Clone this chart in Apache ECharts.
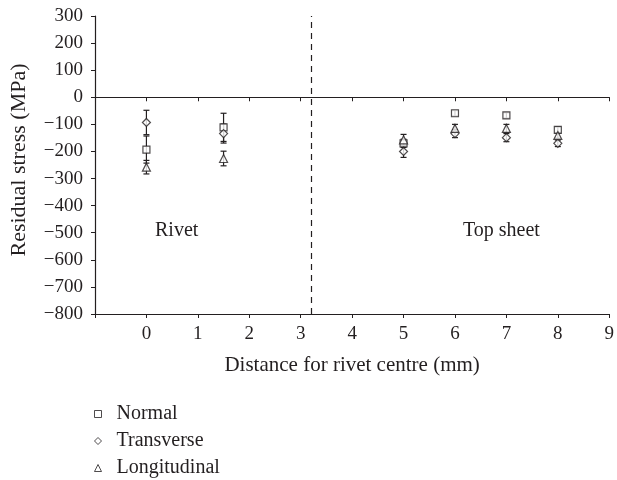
<!DOCTYPE html>
<html><head><meta charset="utf-8">
<script src="https://cdn.jsdelivr.net/npm/echarts@6/dist/echarts.min.js"></script>
<style>html,body{margin:0;padding:0;background:#fff}#c{width:617px;height:480px}</style>
</head><body><div id="c"></div>
<script>
const positions = [0, 1.5, 5, 6, 7, 8];
const normalVals = [-193, -111, -170, -59, -67, -120];
const normalErr  = [50, 52, 15, 10, 10, 10];
const transVals  = [-93, -134, -200, -134, -149, -170];
const transErr   = [45, 35, 22, 15, 15, 12];
const longVals   = [-258, -226, -157, -115, -115, -141];
const longErr    = [25, 27, 20, 15, 15, 10];
const yTicks = [-800, 300, 100];
const divider = 3.2;

const FONT = 'Liberation Serif';
const INK = '#231f20';

function pts(vals){ return positions.map((x,i)=>[x, vals[i]]); }
function errData(vals, errs){ return positions.map((x,i)=>[x, vals[i]-errs[i], vals[i]+errs[i]]); }

function errSeries(vals, errs){
  return {
    type: 'custom',
    xAxisIndex: 0,
    silent: true,
    data: errData(vals, errs),
    renderItem: function(params, api){
      const x = api.value(0), lo = api.value(1), hi = api.value(2);
      const p1 = api.coord([x, lo]), p2 = api.coord([x, hi]);
      const w = 3;
      const st = {stroke: INK, lineWidth: 1.2};
      return {type:'group', children:[
        {type:'line', shape:{x1:p1[0],y1:p1[1],x2:p2[0],y2:p2[1]}, style: st},
        {type:'line', shape:{x1:p1[0]-w,y1:p1[1],x2:p1[0]+w,y2:p1[1]}, style: st},
        {type:'line', shape:{x1:p2[0]-w,y1:p2[1],x2:p2[0]+w,y2:p2[1]}, style: st}
      ]};
    },
    z: 2
  };
}
function pointSeries(name, vals, symbol, size){
  return {
    name: name, type: 'scatter', xAxisIndex: 0, data: pts(vals),
    symbol: symbol, symbolSize: size,
    itemStyle: {color: '#fff', borderColor: INK, borderWidth: 1.2},
    z: 3
  };
}

const chart = echarts.init(document.getElementById('c'), null, {renderer:'canvas'});
chart.setOption({
  animation: false,
  textStyle: {fontFamily: FONT, color: INK},
  grid: {left: 95, right: 6, top: 16, bottom: 166, containLabel: false},
  legend: {
    orient: 'vertical', left: 94, top: 404, padding: 0,
    itemWidth: 7, itemHeight: 7, itemGap: 7,
    textStyle: {fontFamily: FONT, fontSize: 20, color: INK, padding: [0,0,0,10]},
    data: [
      {name:'Normal', icon:'rect'},
      {name:'Transverse', icon:'diamond'},
      {name:'Longitudinal', icon:'triangle'}
    ],
    itemStyle: {color:'#fff', borderColor: INK, borderWidth: 1}
  },
  xAxis: [{
    type: 'value', min: -1, max: 9, interval: 1, position: 'bottom',
    axisLine: {onZero: false, lineStyle: {color: INK, width: 1.2}},
    axisTick: {show: true, length: 4, lineStyle: {color: INK}},
    splitLine: {show: false},
    axisLabel: {fontFamily: FONT, fontSize: 19, color: INK, margin: 11,
      formatter: v => v < 0 ? '' : String(v)},
    name: 'Distance for rivet centre (mm)', nameLocation: 'middle', nameGap: 41,
    nameTextStyle: {fontFamily: FONT, fontSize: 21, color: INK}
  },{
    type: 'value', min: -1, max: 9, interval: 1, position: 'bottom',
    axisLine: {onZero: true, lineStyle: {color: INK, width: 1.2}},
    axisTick: {show: true, length: 4, lineStyle: {color: INK}},
    splitLine: {show: false},
    axisLabel: {show: false}
  }],
  yAxis: {
    type: 'value', min: yTicks[0], max: yTicks[1], interval: yTicks[2],
    axisLine: {show: true, onZero: false, lineStyle: {color: INK, width: 1.2}},
    axisTick: {show: true, length: 4, lineStyle: {color: INK}},
    splitLine: {show: false},
    axisLabel: {fontFamily: FONT, fontSize: 19, color: INK, margin: 12,
      formatter: v => String(v).replace('-', '\u2212')}
  },
  series: [
    errSeries(normalVals, normalErr),
    errSeries(transVals, transErr),
    errSeries(longVals, longErr),
    Object.assign(pointSeries('Normal', normalVals, 'rect', 7), {
      markLine: {
        silent: true, symbol: ['none','none'], label: {show:false},
        lineStyle: {color: INK, type: [6,5], width: 1.2},
        data: [{xAxis: divider}]
      }
    }),
    pointSeries('Transverse', transVals, 'diamond', 8),
    pointSeries('Longitudinal', longVals, 'triangle', 8)
  ],
  graphic: [
    {type:'text', x: 19, y: 160, rotation: Math.PI/2,
      style:{text:'Residual stress (MPa)', font:'22px "Liberation Serif"', fill: INK, align:'center', verticalAlign:'middle'}},
    {type:'text', left: 155, top: 221, style:{text:'Rivet', font:'20px "Liberation Serif"', fill: INK}},
    {type:'text', left: 463, top: 221, style:{text:'Top sheet', font:'20px "Liberation Serif"', fill: INK}}
  ]
});
</script></body></html>
